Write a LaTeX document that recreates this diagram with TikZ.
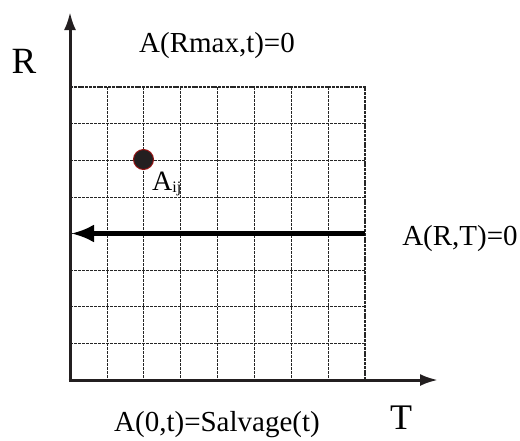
\documentclass[tikz,border=0pt]{standalone}
\usepackage{fontspec}
\setmainfont{Liberation Serif}
\usetikzlibrary{arrows.meta}

\begin{document}
\begin{tikzpicture}[x=1pt, y=-1pt, every node/.style={font=\fontsize{29}{29}\selectfont, inner sep=0pt}]
\tikzstyle{axis}=[line width=3pt, draw={rgb,255:red,35;green,31;blue,32}, -{Latex[length=18pt, width=12pt]}]
\tikzstyle{gridline}=[line width=0.7pt, dash pattern=on 2.5pt off 1.5pt, draw=black!85]
\tikzstyle{edge}=[line width=1.8pt, dash pattern=on 3pt off 0.8pt, draw=black!85]
\tikzstyle{sweep}=[line width=5pt, -{Latex[length=23pt, width=18pt]}]
\useasboundingbox (0,0) rectangle (520,440);
% grid of the finite difference mesh
\foreach \i in {1,...,7} {
  \draw[gridline] (70+36.875*\i,87) -- (70+36.875*\i,380);
  \draw[gridline] (70,87+36.625*\i) -- (365,87+36.625*\i);
}
\draw[edge] (70,87) -- (365,87) -- (365,380);
% axes
\coordinate (o) at (70,381.5);
\coordinate (rtip) at (70,12);
\coordinate (ttip) at (438,380);
\draw[axis] (o) -- (rtip);
\draw[axis] ([xshift=-1.5pt]o.center) ++(0,-1.5) -- (ttip);
% boundary sweep
\coordinate (bstart) at (365,233.5);
\coordinate (bend) at (71,233.5);
\draw[sweep] (bstart) -- (bend);
% mesh point
\node[circle, minimum size=20pt, fill={rgb,255:red,35;green,31;blue,32}, draw={rgb,255:red,150;green,20;blue,20}, line width=1pt] (aij) at (143.5,159.5) {};
\node[anchor=base west, font=\fontsize{28}{28}\selectfont] (aijlab) at (152,190) {A\raisebox{-2pt}{\fontsize{16}{16}\selectfont ij}};
% labels
\node[anchor=base, font=\fontsize{37}{37}\selectfont] (rlab) at (24,73) {R};
\node[anchor=base, font=\fontsize{36}{36}\selectfont] (tlab) at (401,429) {T};
\node[anchor=base] (top) at (217,52) {A(Rmax,t)=0};
\node[anchor=base] (right) at (460,245) {A(R,T)=0};
\node[anchor=base] (bottom) at (217,431) {A(0,t)=Salvage(t)};
\end{tikzpicture}
\end{document}
